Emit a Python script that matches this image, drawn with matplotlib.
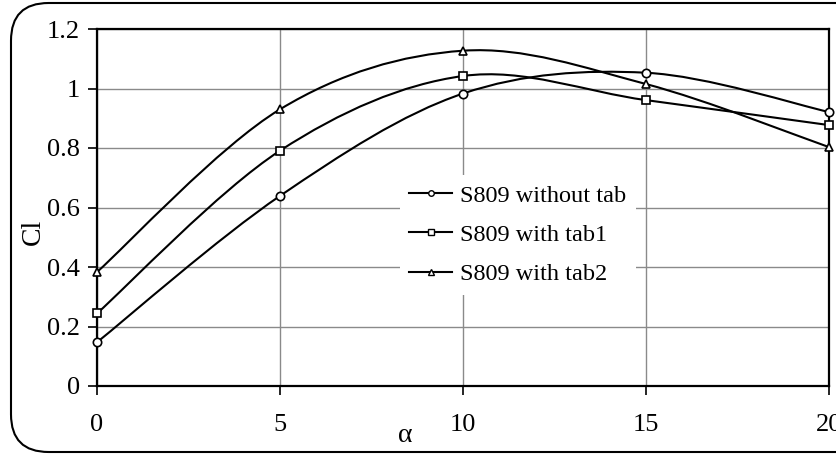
"""
Cl vs angle of attack for the S809 airfoil, with and without tabs.
"""

import matplotlib
matplotlib.use("Agg")
import matplotlib.pyplot as plt
from matplotlib.path import Path
from matplotlib.patches import PathPatch, FancyBboxPatch
from matplotlib.lines import Line2D

alpha = [0, 5, 10, 15, 20]
cl_no_tab = [0.147, 0.639, 0.983, 1.053, 0.921]
cl_tab1 = [0.244, 0.791, 1.042, 0.961, 0.877]
cl_tab2 = [0.383, 0.930, 1.127, 1.015, 0.803]
labels = ["S809 without tab", "S809 with tab1", "S809 with tab2"]
markers = ["o", "s", "^"]


def smooth_path(xs, ys):
    # Excel-style smoothed line: cubic Bezier segments, Catmull-Rom tangents
    pts = list(zip(xs, ys))
    n = len(pts)
    verts = [pts[0]]
    codes = [Path.MOVETO]
    for i in range(n - 1):
        p0 = pts[i - 1] if i > 0 else pts[i]
        p1 = pts[i]
        p2 = pts[i + 1]
        p3 = pts[i + 2] if i + 2 < n else pts[i + 1]
        c1 = (p1[0] + (p2[0] - p0[0]) / 6, p1[1] + (p2[1] - p0[1]) / 6)
        c2 = (p2[0] - (p3[0] - p1[0]) / 6, p2[1] - (p3[1] - p1[1]) / 6)
        verts += [c1, c2, p2]
        codes += [Path.CURVE4] * 3
    return Path(verts, codes)


def main():
    plt.rcParams["font.family"] = ["Liberation Serif", "DejaVu Serif"]
    fig = plt.figure(figsize=(8.36, 4.58), dpi=100)

    # rounded chart-area border (runs off the right edge like the original)
    border = FancyBboxPatch((11 / 836, 6 / 458), 900 / 836, 449 / 458,
                            boxstyle="round,pad=0,rounding_size=0.045",
                            transform=fig.transFigure, fill=False,
                            ec="black", lw=1.5, mutation_aspect=836 / 458)
    fig.patches.append(border)

    ax = fig.add_axes([97 / 836, 1 - 386 / 458, 732 / 836, 357 / 458])
    ax.set_xlim(0, 20)
    ax.set_ylim(0, 1.2)
    ax.set_xticks([0, 5, 10, 15, 20])
    ax.set_yticks([0, 0.2, 0.4, 0.6, 0.8, 1.0, 1.2])
    ax.set_yticklabels(["0", "0.2", "0.4", "0.6", "0.8", "1", "1.2"])
    ax.grid(True, color="#8a8a8a", lw=1.0)
    ax.set_axisbelow(True)
    for s in ax.spines.values():
        s.set_linewidth(1.6)
    ax.tick_params(axis="both", direction="out", length=6.5, width=1.2,
                   labelsize=19)
    ax.tick_params(axis="x", pad=14)
    ax.tick_params(axis="y", pad=6)

    handles = []
    for ys, m, lab in zip([cl_no_tab, cl_tab1, cl_tab2], markers, labels):
        ax.add_patch(PathPatch(smooth_path(alpha, ys), fill=False,
                               ec="black", lw=1.5, zorder=3))
        ax.plot(alpha, ys, ls="none", marker=m, ms=6, mfc="white",
                mec="black", mew=1.2, zorder=4, clip_on=False)
        handles.append(Line2D([], [], color="black", lw=1.5, marker=m,
                              ms=4, mfc="white", mec="black", mew=1.0))

    leg = ax.legend(handles, labels, loc="center",
                    bbox_to_anchor=(518 / 836, 1 - 235 / 458),
                    bbox_transform=fig.transFigure, fontsize=17.5,
                    frameon=True, fancybox=False, framealpha=1,
                    handlelength=1.75, handletextpad=0.35, labelspacing=0.7,
                    borderpad=0.4, borderaxespad=0)
    leg.get_frame().set_edgecolor("white")
    leg.get_frame().set_linewidth(0)

    fig.text(33 / 836, 1 - 232 / 458, "Cl", rotation=90, fontsize=20,
             ha="center", va="center")
    fig.text(405 / 836, 1 - 435 / 458, "α", fontsize=20,
             ha="center", va="center")

    fig.savefig("out.png", dpi=100)


if __name__ == "__main__":
    main()
